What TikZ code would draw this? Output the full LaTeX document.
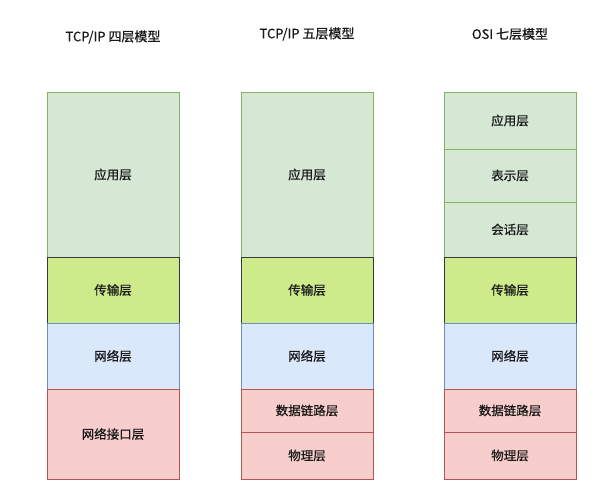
\documentclass[tikz,border=0pt]{standalone}
\usepackage{fontspec}
\setmainfont{Noto Sans CJK SC}[FakeBold=0.7]
\usepackage{xcolor}
\usetikzlibrary{positioning}
\definecolor{appfill}{HTML}{D5E8D4}
\definecolor{appline}{HTML}{82B366}
\definecolor{tpfill}{HTML}{CDEB8B}
\definecolor{tpline}{HTML}{36393D}
\definecolor{netfill}{HTML}{DAE8FC}
\definecolor{netline}{HTML}{6C8EBF}
\definecolor{linkfill}{HTML}{F8CECC}
\definecolor{linkline}{HTML}{B85450}
\tikzset{
  layer/.style={rectangle, draw, line width=0.8pt, outer sep=0pt, inner sep=0pt, minimum width=132pt, text centered, font=\fontsize{12.5}{14}\selectfont, text=black!90},
  app_l/.style={layer, fill=appfill, draw=appline},
  tp_l/.style={layer, fill=tpfill, draw=tpline},
  net_l/.style={layer, fill=netfill, draw=netline},
  link_l/.style={layer, fill=linkfill, draw=linkline},
  title/.style={font=\fontsize{13}{15}\selectfont, text=black!90}
}
\begin{document}
\begin{tikzpicture}[x=1pt,y=-1pt]
\useasboundingbox (0,0) rectangle (600,488);
% titles
\node[title] (t4) at (113,37) {TCP/IP 四层模型};
\node[title] (t5) at (307,34) {TCP/IP 五层模型};
\node[title] (t7) at (510,34) {OSI 七层模型};
% four layers
\node[app_l, minimum height=165pt, anchor=north west] (a4) at (47,92) {应用层};
\node[tp_l, minimum height=66pt, below=0pt of a4] (tp4) {传输层};
\node[net_l, minimum height=66pt, below=0pt of tp4] (n4) {网络层};
\node[link_l, minimum height=90pt, below=0pt of n4] (l4) {网络接口层};
% five layers
\node[app_l, minimum height=165pt, anchor=north west] (a5) at (241,92) {应用层};
\node[tp_l, minimum height=66pt, below=0pt of a5] (tp5) {传输层};
\node[net_l, minimum height=66pt, below=0pt of tp5] (n5) {网络层};
\node[link_l, minimum height=43pt, below=0pt of n5] (d5) {数据链路层};
\node[link_l, minimum height=47pt, below=0pt of d5] (p5) {物理层};
% seven layers
\node[app_l, minimum height=57pt, anchor=north west] (a7) at (444,92) {应用层};
\node[app_l, minimum height=53pt, below=0pt of a7] (s7) {表示层};
\node[app_l, minimum height=55pt, below=0pt of s7] (h7) {会话层};
\node[tp_l, minimum height=66pt, below=0pt of h7] (tp7) {传输层};
\node[net_l, minimum height=66pt, below=0pt of tp7] (n7) {网络层};
\node[link_l, minimum height=43pt, below=0pt of n7] (d7) {数据链路层};
\node[link_l, minimum height=47pt, below=0pt of d7] (p7) {物理层};
\end{tikzpicture}
\end{document}
